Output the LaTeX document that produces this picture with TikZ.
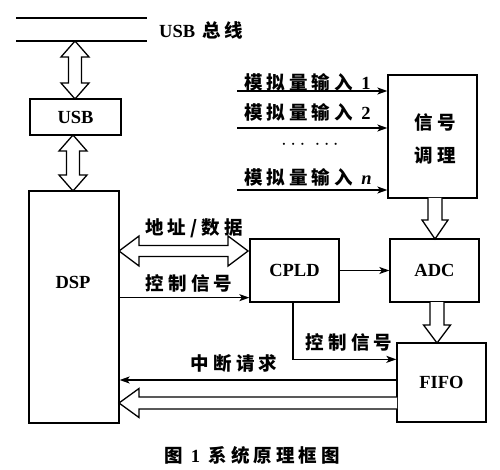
\documentclass[tikz,border=0pt]{standalone}
\usepackage{fontspec}
\setmainfont{Liberation Serif}
\newfontfamily\cjk[LetterSpace=22]{Noto Sans CJK SC}
\usetikzlibrary{arrows.meta,calc}
\begin{document}
\begin{tikzpicture}[x=1pt,y=-1pt,
  box/.style={draw,line width=1.3pt,inner sep=0pt,font=\fontsize{18.5}{20}\selectfont\bfseries},
  lat/.style={font=\fontsize{18.5}{20}\selectfont\bfseries,inner sep=0pt},
  cn/.style={font=\fontsize{18.5}{20}\selectfont\cjk\bfseries,inner sep=0pt},
  arr/.style={line width=1.3pt,-{Stealth[length=10pt,width=7pt,inset=2.5pt]}},
  hollow/.style={line width=1.3pt,line join=miter,fill=white},
  busline/.style={line width=1.3pt}]
\useasboundingbox (0,0) rectangle (500,470);
% bus
\coordinate (b1) at (16,18); \coordinate (b2) at (147,18);
\coordinate (b3) at (16,41); \coordinate (b4) at (147,41);
\draw[busline] (b1) -- (b2);
\draw[busline] (b3) -- (b4);
\node[anchor=west,inner sep=0pt] (bus) at (159,30) {\fontsize{18.5}{20}\selectfont\bfseries USB\hspace{7pt}\cjk 总线};
% boxes
\node[box,minimum width=91pt,minimum height=36pt] (usb) at (75.5,117) {USB};
\node[box,minimum width=90pt,minimum height=232pt] (dsp) at (74,307) {};
\node[lat] (dsptext) at ($(dsp.center)+(-1,-25)$) {DSP};
\node[box,minimum width=89pt,minimum height=63pt] (cpld) at (294.5,270.5) {CPLD};
\node[box,minimum width=89pt,minimum height=63pt] (adc) at (434.5,270.5) {ADC};
\node[box,minimum width=89pt,minimum height=123pt] (sig) at (432.5,136.5) {};
\node[cn] (sig1) at (435,122) {信号};
\node[cn] (sig2) at (435,156) {调理};
\node[box,minimum width=89pt,minimum height=79pt] (fifo) at (441.5,382.5) {FIFO};
% hollow arrows
\draw[hollow] (75,41) -- ++(14,16) -- ++(-7.5,0) -- (81.5,83) -- ++(7.5,0) -- (75,99) -- ++(-14,-16) -- ++(7.5,0) -- (68.5,57) -- ++(-7.5,0) -- cycle;
\draw[hollow] (73,135) -- ++(14,16) -- ++(-7.5,0) -- (79.5,175) -- ++(7.5,0) -- (73,191) -- ++(-14,-16) -- ++(7.5,0) -- (66.5,151) -- ++(-7.5,0) -- cycle;
\draw[hollow] (119,251) -- ++(20,-15) -- ++(0,9.5) -- (228,245.5) -- ++(0,-9.5) -- (248,251) -- ++(-20,15) -- ++(0,-9.5) -- (139,256.5) -- ++(0,9.5) -- cycle;
\draw[hollow] (428,198) -- (428,220) -- (422,220) -- (435,239) -- (448,220) -- (442,220) -- (442,198);
\draw[hollow] (430,302) -- (430,325) -- (423.5,325) -- (437,343) -- (450.5,325) -- (444,325) -- (444,302);
\draw[hollow] (397,397) -- (139,397) -- (139,388.5) -- (119,403) -- (139,417.5) -- (139,409) -- (397,409);
% inputs
\coordinate (in1) at (237,91);
\coordinate (in2) at (237,128);
\coordinate (in3) at (237,190);
\draw[arr] (in1) -- (in1 -| sig.west);
\draw[arr] (in2) -- (in2 -| sig.west);
\draw[arr] (in3) -- (in3 -| sig.west);
\node[cn,anchor=west] (l1) at (244,82) {模拟量输入\ {\rmfamily\fontsize{18.5}{20}\selectfont\bfseries 1}};
\node[cn,anchor=west] (l2) at (244,112) {模拟量输入\ {\rmfamily\fontsize{18.5}{20}\selectfont\bfseries 2}};
\node[cn,anchor=west] (l3) at (244,177) {模拟量输入\ {\rmfamily\fontsize{18.5}{20}\selectfont\bfseries\itshape n}};
\node[inner sep=0pt,font=\fontsize{22}{24}\selectfont] (dots) at (310,145) {$\cdots\;\cdots$};
% connectors
\node[cn] (addr) at (194,228) {地址/数据};
\coordinate (k) at ($(cpld.south west)+(0,-5)$);
\draw[arr] (k -| dsp.east) -- (k);
\node[cn] (ctl1) at (189,283) {控制信号};
\draw[arr] (cpld.east) -- (adc.west);
\coordinate (k2) at ($(fifo.north west)+(0,17)$);
\draw[arr] ($(cpld.south)+(-1.5,0)$) -- ($(cpld.south |- k2)+(-1.5,0)$) -- (k2);
\node[cn] (ctl2) at (349,342) {控制信号};
\coordinate (i) at ($(fifo.west)+(0,-2.5)$);
\draw[arr] (i) -- (i -| dsp.east);
\node[cn] (irq) at (234,363) {中断请求};
% caption
\node[cn] (cap) at (252,455) {图\ {\rmfamily\fontsize{18.5}{20}\selectfont\bfseries 1}\ 系统原理框图};
\end{tikzpicture}
\end{document}
